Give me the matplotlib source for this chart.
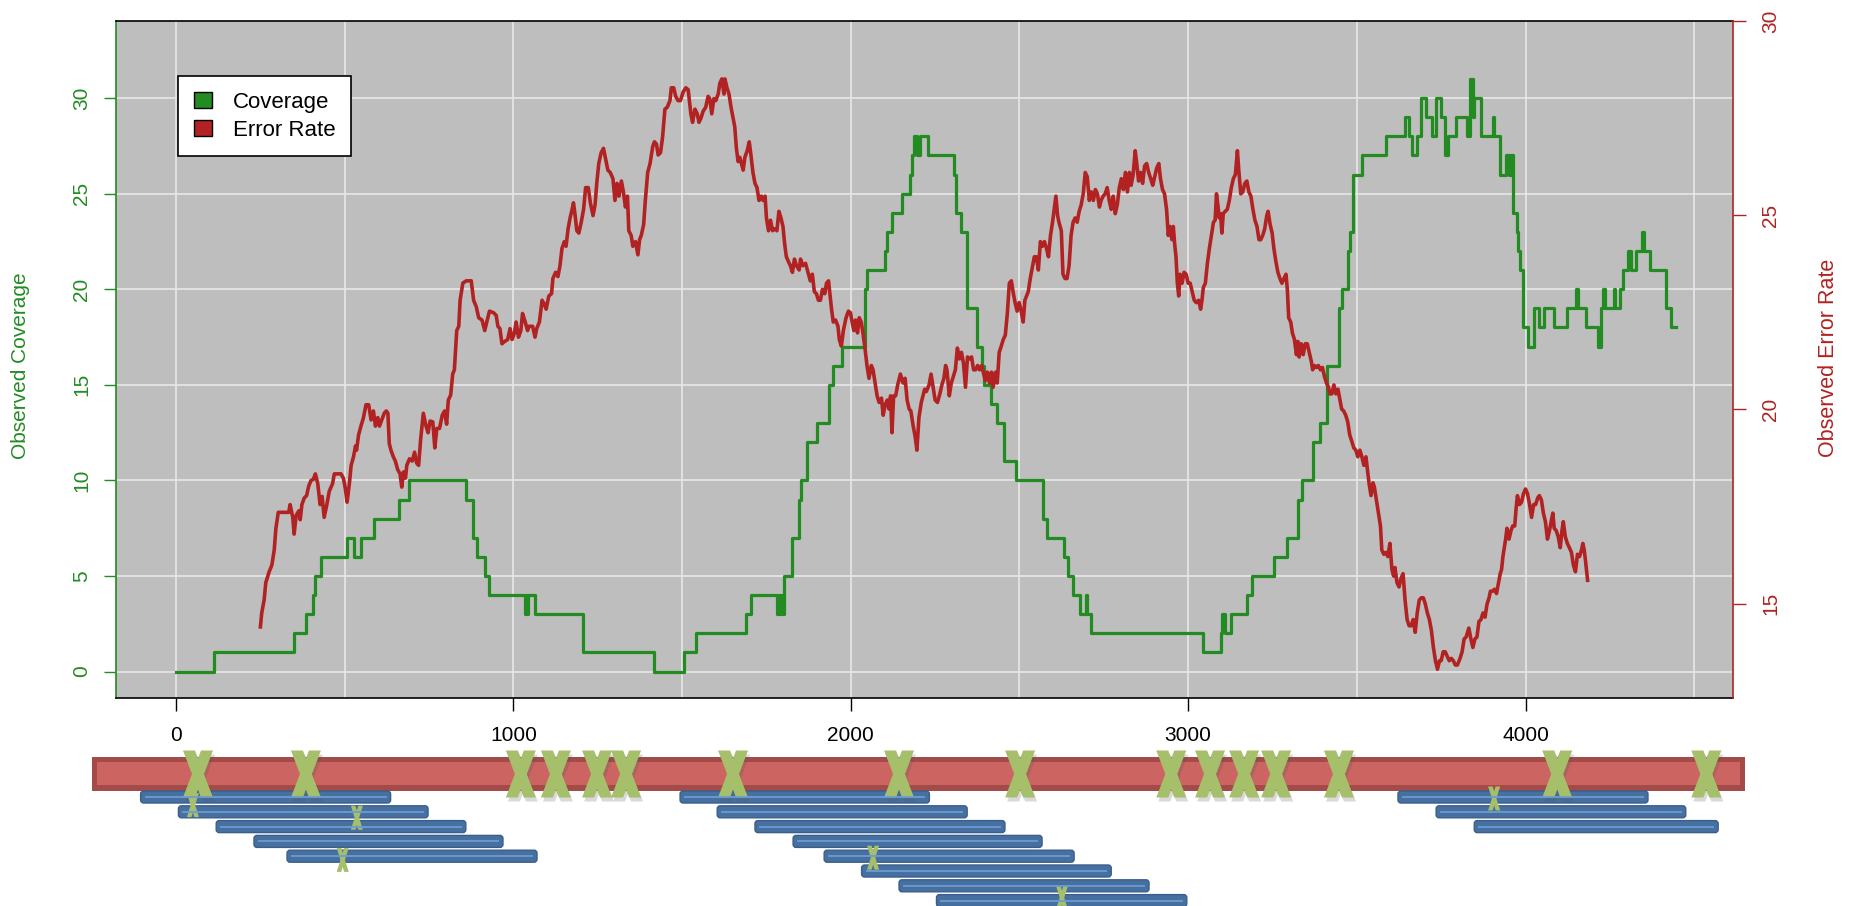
import matplotlib
matplotlib.use("Agg")
import matplotlib.pyplot as plt
from matplotlib.patches import Rectangle, FancyBboxPatch, Polygon, Patch

plt.rcParams['font.family'] = ['Liberation Sans', 'DejaVu Sans']
plt.rcParams['font.size'] = 15

GREEN = '#228B22'
RED = '#B22222'

# coverage: position where each step starts, and its value
cov_x = [0, 112, 351, 385, 405, 413, 430, 506, 526, 548, 586, 662, 690, 860, 881, 891, 915, 927,
         1033, 1036, 1040, 1043, 1064, 1207, 1418, 1505, 1542, 1689, 1705, 1781, 1786, 1790, 1796,
         1799, 1803, 1827, 1847, 1851, 1871, 1899, 1936, 1946, 1975, 2041, 2048, 2100, 2108, 2123,
         2153, 2177, 2182, 2186, 2196, 2206, 2229, 2305, 2313, 2326, 2343, 2374, 2389, 2395, 2415,
         2433, 2455, 2491, 2570, 2583, 2632, 2645, 2660, 2679, 2697, 2700, 2711, 3043, 3097, 3100,
         3110, 3128, 3175, 3189, 3254, 3292, 3325, 3336, 3371, 3391, 3413, 3447, 3457, 3474, 3479,
         3489, 3516, 3585, 3642, 3654, 3664, 3679, 3690, 3705, 3724, 3734, 3749, 3761, 3771, 3795,
         3826, 3836, 3844, 3848, 3869, 3903, 3907, 3925, 3942, 3952, 3958, 3962, 3974, 3979, 3984,
         3992, 4008, 4024, 4039, 4055, 4085, 4123, 4150, 4155, 4180, 4216, 4223, 4230, 4236, 4261,
         4266, 4279, 4290, 4305, 4312, 4328, 4345, 4350, 4368, 4415, 4431, 4447]
cov_y = [0, 1, 2, 3, 4, 5, 6, 7, 6, 7, 8, 9, 10, 9, 7, 6, 5, 4,
         3, 4, 3, 4, 3, 1, 0, 1, 2, 3, 4, 3, 4, 3, 4,
         3, 5, 7, 9, 10, 12, 13, 15, 16, 17, 20, 21, 22, 23, 24,
         25, 26, 27, 28, 27, 28, 27, 26, 24, 23, 19, 17, 16, 15, 14,
         13, 11, 10, 8, 7, 6, 5, 4, 3, 4, 3, 2, 1, 2, 3,
         2, 3, 4, 5, 6, 7, 9, 10, 12, 13, 16, 19, 20, 22, 23,
         26, 27, 28, 29, 28, 27, 28, 30, 29, 28, 30, 29, 27, 28, 29,
         28, 31, 29, 30, 28, 29, 28, 26, 27, 26, 27, 24, 23, 22, 21,
         18, 17, 19, 18, 19, 18, 19, 20, 19, 18, 17, 19, 20, 19, 20,
         19, 20, 21, 22, 21, 22, 23, 22, 21, 19, 18, 18]

# error rate
err_x = [250, 254, 261, 266, 276, 284, 291, 296, 303, 316, 334, 338, 346, 350, 356, 364, 368, 373,
         380, 387, 393, 400, 407, 413, 420, 427, 433, 439, 447, 454, 464, 469, 479, 489, 496, 502,
         507, 514, 519, 526, 532, 535, 541, 548, 555, 563, 571, 578, 585, 591, 598, 603, 617, 623,
         628, 632, 637, 644, 650, 657, 664, 669, 674, 680, 684, 692, 700, 707, 713, 719, 725, 733,
         741, 747, 753, 761, 767, 773, 781, 789, 796, 802, 807, 814, 820, 825, 832, 838, 842, 850,
         860, 875, 882, 890, 897, 907, 915, 921, 929, 941, 949, 954, 960, 966, 974, 983, 990, 996,
         1003, 1008, 1015, 1022, 1027, 1035, 1042, 1046, 1057, 1064, 1069, 1077, 1085, 1092, 1097,
         1105, 1113, 1117, 1125, 1132, 1138, 1144, 1151, 1156, 1162, 1168, 1174, 1178, 1183, 1188,
         1194, 1201, 1208, 1214, 1222, 1228, 1236, 1242, 1247, 1253, 1260, 1267, 1275, 1280, 1287,
         1295, 1301, 1307, 1313, 1320, 1326, 1332, 1338, 1342, 1349, 1354, 1362, 1369, 1374, 1379,
         1386, 1391, 1398, 1405, 1413, 1418, 1424, 1429, 1436, 1442, 1449, 1456, 1464, 1468, 1475,
         1481, 1488, 1495, 1503, 1511, 1518, 1526, 1531, 1538, 1545, 1550, 1556, 1562, 1570, 1577,
         1582, 1588, 1594, 1600, 1607, 1612, 1618, 1624, 1627, 1633, 1639, 1645, 1651, 1656, 1661,
         1666, 1671, 1676, 1681, 1686, 1693, 1699, 1704, 1710, 1716, 1722, 1728, 1735, 1740, 1746,
         1750, 1756, 1762, 1768, 1775, 1781, 1787, 1793, 1799, 1804, 1809, 1815, 1821, 1827, 1833,
         1839, 1847, 1851, 1858, 1866, 1873, 1880, 1886, 1892, 1898, 1904, 1910, 1916, 1923, 1928,
         1934, 1938, 1943, 1948, 1955, 1962, 1966, 1972, 1978, 1986, 1993, 1999, 2004, 2009, 2014,
         2020, 2025, 2031, 2036, 2042, 2048, 2054, 2061, 2066, 2072, 2078, 2084, 2091, 2096, 2102,
         2108, 2113, 2118, 2122, 2127, 2133, 2139, 2147, 2155, 2161, 2167, 2173, 2178, 2185, 2191,
         2196, 2202, 2209, 2219, 2224, 2232, 2238, 2244, 2250, 2257, 2264, 2270, 2276, 2281, 2285,
         2292, 2298, 2304, 2310, 2316, 2322, 2328, 2334, 2340, 2346, 2352, 2358, 2364, 2370, 2376,
         2382, 2388, 2394, 2399, 2405, 2411, 2417, 2422, 2429, 2434, 2440, 2446, 2452, 2458, 2464,
         2470, 2476, 2482, 2487, 2493, 2499, 2505, 2511, 2516, 2521, 2526, 2532, 2538, 2544, 2550,
         2556, 2562, 2568, 2574, 2580, 2586, 2592, 2598, 2603, 2608, 2613, 2617, 2624, 2629, 2635,
         2641, 2647, 2653, 2659, 2665, 2671, 2677, 2683, 2689, 2695, 2701, 2707, 2713, 2719, 2725,
         2731, 2737, 2742, 2748, 2754, 2760, 2766, 2772, 2778, 2784, 2790, 2796, 2802, 2808, 2814,
         2820, 2826, 2831, 2837, 2843, 2847, 2853, 2859, 2865, 2871, 2877, 2883, 2889, 2895, 2901,
         2907, 2913, 2918, 2924, 2930, 2936, 2941, 2946, 2952, 2956, 2960, 2964, 2968, 2972, 2976,
         2982, 2988, 2994, 3000, 3006, 3012, 3018, 3024, 3031, 3037, 3041, 3045, 3051, 3057, 3063,
         3069, 3075, 3080, 3084, 3088, 3092, 3096, 3100, 3104, 3110, 3116, 3122, 3128, 3134, 3140,
         3146, 3150, 3156, 3162, 3168, 3174, 3180, 3186, 3192, 3198, 3204, 3210, 3215, 3221, 3227,
         3233, 3237, 3243, 3249, 3254, 3260, 3266, 3272, 3278, 3284, 3290, 3294, 3298, 3304, 3309,
         3315, 3321, 3325, 3329, 3335, 3341, 3347, 3353, 3359, 3365, 3369, 3375, 3380, 3386, 3392,
         3398, 3404, 3410, 3416, 3420, 3426, 3432, 3438, 3444, 3450, 3455, 3461, 3467, 3473, 3479,
         3485, 3491, 3497, 3503, 3509, 3515, 3521, 3527, 3530, 3536, 3542, 3548, 3552, 3558, 3564,
         3570, 3574, 3580, 3586, 3592, 3598, 3604, 3609, 3613, 3619, 3625, 3631, 3637, 3643, 3649,
         3655, 3661, 3667, 3673, 3679, 3685, 3691, 3697, 3703, 3709, 3715, 3721, 3727, 3733, 3739,
         3745, 3750, 3756, 3762, 3768, 3774, 3780, 3786, 3792, 3798, 3806, 3812, 3818, 3824, 3832,
         3838, 3844, 3850, 3856, 3862, 3868, 3874, 3880, 3886, 3892, 3896, 3902, 3908, 3914, 3920,
         3925, 3929, 3933, 3937, 3941, 3945, 3951, 3957, 3962, 3968, 3972, 3976, 3982, 3988, 3994,
         4000, 4006, 4012, 4018, 4024, 4030, 4036, 4041, 4047, 4053, 4059, 4065, 4071, 4077, 4081,
         4085, 4091, 4097, 4103, 4108, 4112, 4118, 4124, 4130, 4136, 4142, 4148, 4154, 4160, 4166,
         4170, 4174, 4178, 4184]
err_y = [14.40, 14.76, 15.09, 15.54, 15.82, 15.99, 16.38, 16.94, 17.35, 17.35, 17.35, 17.55, 17.22, 16.79, 17.27, 17.39, 17.16, 17.55,
         17.72, 17.78, 18.02, 18.17, 18.20, 18.34, 18.09, 17.55, 17.76, 17.22, 17.55, 17.89, 18.09, 18.34, 18.34, 18.34, 18.23, 17.95,
         17.61, 18.11, 18.56, 18.78, 19.06, 18.95, 19.34, 19.57, 19.77, 20.12, 20.12, 19.73, 19.96, 19.57, 19.79, 19.57, 19.90, 19.96,
         19.90, 19.12, 18.95, 18.78, 18.67, 18.45, 18.34, 18.00, 18.39, 18.23, 18.56, 18.73, 18.67, 18.90, 18.62, 18.56, 19.23, 19.90,
         19.57, 19.40, 19.70, 19.68, 19.01, 19.51, 19.51, 19.85, 19.96, 19.62, 20.24, 20.37, 20.91, 21.02, 22.03, 22.14, 22.81, 23.25,
         23.31, 23.31, 22.81, 22.64, 22.36, 22.30, 22.03, 22.25, 22.53, 22.49, 22.42, 22.14, 22.08, 21.69, 21.75, 21.80, 22.08, 21.80,
         21.97, 22.25, 21.86, 22.03, 22.47, 22.25, 22.03, 22.14, 22.14, 21.86, 22.08, 22.25, 22.81, 22.70, 22.58,
         22.92, 22.98, 23.37, 23.53, 23.42, 23.70, 24.15, 24.32, 24.20, 24.65, 24.93, 25.15, 25.32, 24.99, 24.60,
         24.54, 24.82, 25.15, 25.71, 25.71, 25.32, 24.99, 25.27, 25.82, 26.33, 26.61, 26.72, 26.38, 26.16, 26.10,
         25.94, 25.38, 25.82, 25.49, 25.88, 25.60, 25.21, 25.49, 24.60, 24.48, 24.20, 24.32, 23.98, 24.37, 24.48,
         24.76, 25.38, 26.10, 26.33, 26.77, 26.89, 26.83, 26.55, 26.61, 27.00, 27.73, 27.78, 27.95, 28.28, 28.28,
         28.06, 27.95, 27.95, 28.17, 28.28, 28.23, 27.61, 27.39, 27.73, 27.61, 27.39, 27.50, 27.67, 27.78, 28.06,
         28.00, 27.61, 28.00, 27.95, 28.12, 28.40, 28.51, 28.12, 28.51, 28.28, 28.12, 27.78, 27.50, 27.28, 26.72,
         26.38, 26.49, 26.33, 26.16, 26.49, 26.66, 26.89, 26.55, 26.10, 25.82, 25.71, 25.38, 25.49, 25.38, 25.49,
         24.93, 24.60, 24.87, 24.60, 24.65, 24.60, 25.10, 24.93, 24.71, 24.26, 23.93, 23.81, 23.70, 23.53, 23.87,
         23.70, 23.59, 23.87, 23.70, 23.76, 23.53, 23.31, 23.48, 23.03, 22.98, 22.81, 22.81, 23.09, 22.98, 23.25,
         23.31, 22.98, 22.58, 22.25, 22.30, 22.14, 21.80, 21.63, 22.03, 22.36, 22.53, 22.49, 22.25, 22.03, 22.30,
         21.97, 22.36, 22.25, 21.97, 21.58, 21.13, 20.80, 21.13, 21.02, 20.68, 20.35, 20.18, 20.29, 19.85, 20.12,
         20.24, 20.01, 20.35, 19.40, 20.35, 20.35, 20.63, 20.91, 20.68, 20.80, 20.24, 20.01, 19.96, 19.57, 19.29,
         18.95, 19.79, 20.18, 20.52, 20.46, 20.63, 20.91, 20.57, 20.24, 20.18, 20.40, 20.63, 20.80, 21.13, 21.02,
         20.35, 20.68, 20.85, 21.02, 21.58, 21.30, 21.47, 21.19, 20.57, 21.35, 21.30, 21.35, 21.02, 21.02, 21.13,
         21.02, 21.13, 20.91, 20.74, 20.96, 20.68, 20.96, 20.57, 20.96, 20.68, 21.47, 21.63, 21.80, 21.91, 22.47,
         23.25, 23.31, 22.98, 22.75, 22.53, 22.75, 22.53, 22.25, 22.81, 22.92, 23.03, 23.37, 23.65, 23.93, 23.93,
         23.59, 24.32, 24.20, 24.32, 24.15, 23.93, 24.48, 24.82, 25.15, 25.49, 24.99, 24.82, 24.60, 23.48, 23.37,
         23.37, 23.70, 24.48, 24.82, 24.93, 24.82, 25.10, 25.27, 25.55, 26.10, 25.99, 25.38, 25.60, 25.38, 25.66,
         25.55, 25.21, 25.38, 25.49, 25.55, 25.71, 25.38, 25.15, 25.49, 25.04, 25.27, 25.71, 25.94, 25.66, 26.10,
         25.60, 26.10, 25.77, 26.05, 26.66, 26.38, 25.88, 26.10, 25.82, 26.27, 26.33, 26.10, 25.94, 25.77, 25.99,
         26.22, 26.33, 25.94, 25.66, 25.55, 25.15, 24.48, 24.71, 24.37, 24.71, 24.26, 23.93, 23.25, 22.92, 23.48,
         23.25, 23.53, 23.48, 23.25, 23.25, 23.03, 22.81, 22.75, 22.81, 22.58, 22.81, 23.14, 23.25, 23.76, 24.15,
         24.48, 24.82, 24.87, 25.55, 25.27, 24.93, 25.04, 24.54, 25.04, 25.10, 25.15, 25.38, 25.71, 25.94, 26.05,
         26.66, 26.16, 25.55, 25.60, 25.82, 25.88, 25.60, 25.49, 25.15, 24.87, 24.71, 24.37, 24.37, 24.48, 24.65,
         24.99, 25.10, 24.76, 24.54, 24.15, 23.81, 23.53, 23.37, 23.25, 23.37, 23.48, 23.09, 22.36, 22.25, 21.97,
         21.80, 21.41, 21.75, 21.35, 21.69, 21.41, 21.69, 21.69, 21.47, 21.24, 21.02, 21.13, 21.08, 21.13, 21.02,
         21.08, 20.85, 20.68, 20.57, 20.40, 20.40, 20.63, 20.40, 20.52, 20.24, 20.01, 19.96, 19.85, 19.68, 19.34,
         19.18, 19.01, 18.95, 18.78, 18.95, 18.78, 18.56, 18.78, 18.56, 18.11, 17.78, 18.11, 18.00, 17.67, 17.33,
         17.00, 16.38, 16.27, 16.32, 16.21, 16.55, 15.88, 15.71, 15.93, 15.54, 15.43, 15.65, 15.77, 15.09, 14.59,
         14.43, 14.43, 14.59, 14.26, 14.76, 15.09, 15.15, 15.15, 14.99, 14.76, 14.59, 14.31, 13.87, 13.53, 13.31,
         13.53, 13.53, 13.76, 13.76, 13.64, 13.53, 13.59, 13.53, 13.42, 13.42, 13.59, 13.76, 14.09, 14.14, 14.37,
         14.09, 13.87, 14.09, 14.14, 14.54, 14.59, 14.76, 14.65, 14.99, 15.15, 15.32, 15.32, 15.37, 15.26, 15.54,
         15.77, 15.88, 16.21, 16.44, 16.66, 16.94, 16.66, 16.88, 17.00, 17.00, 17.44, 17.78, 17.55, 17.61, 17.83,
         17.95, 17.83, 17.55, 17.22, 17.55, 17.55, 17.72, 17.78, 17.67, 17.33, 17.11, 16.66, 16.88, 17.16, 17.33,
         16.94, 16.88, 16.72, 16.44, 16.88, 17.11, 16.72, 16.55, 16.44, 16.32, 15.99, 15.82, 16.27, 16.21, 16.38,
         16.55, 16.38, 16.09, 15.60]

# genome sketch below the plot
chrom_span = [-250, 4651]
variant_pos = [65, 385, 1022, 1126, 1248, 1334, 1651, 2143, 2502, 2950, 3065, 3166, 3261, 3447, 4094, 4536]
read_start = [-105, 7, 119, 231, 329, 1494, 1604, 1716, 1829, 1921, 2032, 2143, 2254, 3622, 3735, 3848]
read_end = [636, 747, 859, 969, 1070, 2233, 2345, 2457, 2567, 2662, 2772, 2884, 2996, 4363, 4475, 4571]
read_lane = [0, 1, 2, 3, 4, 0, 1, 2, 3, 4, 5, 6, 7, 0, 1, 2]
read_var_pos = [50, 536, 494, 2066, 2626, 3907]
read_var_lane = [0.55, 1.4, 4.25, 4.1, 6.8, 0.1]

W, H = 1854, 906
L, R, T, B = 116, 1733, 21, 698
fig = plt.figure(figsize=(W / 100, H / 100), dpi=100)
ax = fig.add_axes([L / W, 1 - B / H, (R - L) / W, (B - T) / H])
ax.set_facecolor('#BEBEBE')
ax.set_axisbelow(True)
ax.step(cov_x, cov_y, where='post', color=GREEN, lw=2.3)
ax.set_xlim(-178, 4615)
ax.set_ylim(-1.38, 34.03)
ax.set_xticks([0, 1000, 2000, 3000, 4000])
ax.set_xticks([500, 1500, 2500, 3500, 4500], minor=True)
ax.set_yticks([0, 5, 10, 15, 20, 25, 30])
ax.grid(True, which='both', axis='x', color='#E8E8E8', lw=1.2)
ax.grid(True, which='major', axis='y', color='#E8E8E8', lw=1.2)
ax.tick_params(axis='x', which='minor', length=0)
ax.tick_params(axis='x', which='major', length=9, width=1, pad=11, labelsize=15, colors='black')
ax.tick_params(axis='y', length=9, width=1, pad=9, labelsize=15, colors=GREEN, labelrotation=90)
for lbl in ax.get_yticklabels():
    lbl.set_va('center')
ax.spines['right'].set_visible(False)
ax.spines['left'].set_color(GREEN)
for s in ['left', 'top', 'bottom']:
    ax.spines[s].set_linewidth(1.2)

ax2 = ax.twinx()
ax2.plot(err_x, err_y, color=RED, lw=2.6)
ax2.set_ylim(12.57, 30)
ax2.set_yticks([15, 20, 25, 30])
ax2.tick_params(axis='y', length=9, width=1, pad=11.5, labelsize=15, colors=RED, labelrotation=90)
for lbl in ax2.get_yticklabels():
    lbl.set_va('center')
for s in ['left', 'top', 'bottom']:
    ax2.spines[s].set_visible(False)
ax2.spines['right'].set_color(RED)
ax2.spines['right'].set_linewidth(1.2)

fig.text(21 / W, 1 - 366 / H, 'Observed Coverage', rotation=90, color=GREEN,
         ha='center', va='center', fontsize=15)
fig.text(1828 / W, 1 - 358 / H, 'Observed Error Rate', rotation=90, color=RED,
         ha='center', va='center', fontsize=15.5)

handles = [Patch(facecolor=GREEN, edgecolor='black', label='Coverage'),
           Patch(facecolor=RED, edgecolor='black', label='Error Rate')]
leg = ax2.legend(handles=handles, loc='upper left',
                 bbox_to_anchor=((178.5 - L) / (R - L), (B - 76) / (B - T)),
                 borderaxespad=0, fancybox=False, framealpha=1, edgecolor='black',
                 handlelength=0.8, handleheight=0.75, handletextpad=0.95,
                 borderpad=0.7, labelspacing=0.32, fontsize=16)
leg.get_frame().set_linewidth(1.2)

# sketch of the reference with variants and reads
gax = fig.add_axes([L / W, 0, (R - L) / W, 166 / H])
gax.set_xlim(ax.get_xlim())
gax.set_ylim(906, 740)
gax.axis('off')
ux = (gax.get_xlim()[1] - gax.get_xlim()[0]) / (R - L)  # data units per pixel


def draw_x(xc, yc, w, h, t, color, shadow=True):
    hw = w / 2 * ux
    tt = t * ux
    top, bot = yc - h / 2, yc + h / 2
    legs = [[(xc - hw, top), (xc - hw + tt, top), (xc + hw, bot), (xc + hw - tt, bot)],
            [(xc + hw, top), (xc + hw - tt, top), (xc - hw, bot), (xc - hw + tt, bot)]]
    if shadow:
        for leg_pts in legs:
            pts = [(px + 2 * ux, py + 4) for px, py in leg_pts]
            gax.add_patch(Polygon(pts, closed=True, fc='#555555', ec='none', alpha=0.22, clip_on=False))
    for leg_pts in legs:
        gax.add_patch(Polygon(leg_pts, closed=True, fc=color, ec='none', clip_on=False))


c0, c1 = chrom_span
gax.add_patch(Rectangle((c0, 757), c1 - c0, 34, fc='#A24B48', ec='none', clip_on=False))
gax.add_patch(Rectangle((c0 + 5 * ux, 762.5), c1 - c0 - 10 * ux, 23, fc='#CC6561', ec='none', clip_on=False))

for s, e, lane in zip(read_start, read_end, read_lane):
    yc = 797 + lane * 14.8
    gax.add_patch(FancyBboxPatch((s, yc - 6), e - s, 12,
                                 boxstyle=f'round,pad=0,rounding_size={3 * ux}',
                                 mutation_aspect=1 / ux, fc='#4670A0', ec='#3A5E8C',
                                 lw=1, clip_on=False))
    gax.plot([s + 5 * ux, e - 5 * ux], [yc, yc], color='#6E9BD2', lw=1.3, clip_on=False)

for p in variant_pos:
    draw_x(p, 774, 30, 47, 12, '#A5BF6A')
for p, lane in zip(read_var_pos, read_var_lane):
    draw_x(p, 797 + lane * 14.8, 12, 24, 4.5, '#A5BF6A', shadow=False)

fig.savefig('out.png', dpi=100)
